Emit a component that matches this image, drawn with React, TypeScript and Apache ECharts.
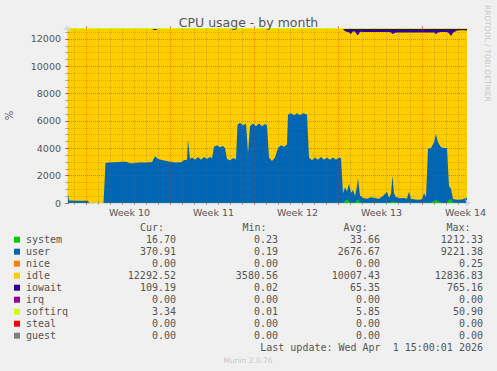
import React, { useEffect, useRef } from 'react';
import * as echarts from 'echarts';

// x = hours since the left edge of the graph (2 hours per pixel, 800 hours wide)
const HOURS = [0,4,20,40,42,44,73,77,84,96,110,118,126,134,144,160,170,176,182,192,204,216,228,234,240,242,246,250,256,262,268,274,280,286,290,294,300,306,312,316,320,326,332,338,341,346,352,358,362,366,372,378,384,390,396,400,404,410,416,422,428,434,440,442,448,454,460,466,472,480,484,490,496,502,508,514,520,526,532,538,544,548,552,556,560,564,568,572,576,580,582,586,592,600,608,616,624,632,640,644,648,651,654,658,666,674,680,684,688,696,704,710,714,718,722,728,734,738,742,748,754,760,764,768,772,780,790,800];

const SYSTEM = [20,20,20,20,20,0,0,20,20,20,
  20,20,20,20,20,20,20,20,20,20,
  20,20,20,20,20,20,20,20,20,20,
  20,20,20,20,20,20,20,20,20,20,
  20,20,20,20,20,20,20,20,20,20,
  20,20,20,20,20,20,20,20,20,20,
  20,20,20,20,20,20,20,20,20,20,
  20,20,20,20,20,20,20,20,20,20,
  20,20,20,150,250,100,50,30,30,200,
  250,50,20,20,20,20,20,20,30,20,
  80,100,100,80,20,20,20,30,20,20,
  20,20,30,20,20,20,150,250,150,20,
  20,20,250,250,50,20,20,17];

const USER = [1100,160,150,140,140,0,0,2900,2940,2960,
  3000,2990,2880,2890,2950,2950,2980,3400,3200,3100,
  3020,2950,2960,3100,3150,4600,3200,3300,3150,3350,
  3150,3350,3200,3350,3250,4100,4200,4050,4150,4000,
  3200,3100,3250,3200,5700,5850,5650,5800,3600,5600,
  5800,5600,5800,5600,5750,5650,3300,3050,3300,4000,
  4200,4100,4250,6450,6550,6400,6550,6400,6550,6450,
  3300,3100,3300,3150,3350,3150,3300,3150,3300,3150,
  3300,3250,700,1000,600,1300,700,900,500,1000,
  1550,500,350,300,400,350,300,500,800,350,
  600,1900,600,350,320,350,300,800,300,230,
  220,250,700,400,3950,4000,4300,4800,4300,4050,
  4000,4000,1000,800,250,220,230,370];

const IDLE = [11600,12540,12550,12560,12560,12720,12720,9800,9760,9740,
  9700,9710,9820,9810,9750,9750,9720,9220,9500,9600,
  9680,9750,9740,9600,9550,8100,9500,9400,9550,9350,
  9550,9350,9500,9350,9450,8600,8500,8650,8550,8700,
  9500,9600,9450,9500,7000,6850,7050,6900,9100,7100,
  6900,7100,6900,7100,6950,7050,9400,9650,9400,8700,
  8500,8600,8450,6250,6150,6300,6150,6300,6150,6250,
  9400,9600,9400,9550,9350,9550,9400,9550,9400,9550,
  9400,9450,12000,11420,11670,11070,11620,11640,11990,11120,
  10470,11970,12140,12190,12080,12130,12180,11980,11670,12130,
  11790,10370,11720,12040,12130,12100,12150,11640,12150,12220,
  12230,12200,11740,12050,8500,8450,8020,7320,8020,8440,
  8490,8490,11170,11170,12160,12380,12380,12233];

const IOWAIT = [0,0,0,0,0,0,0,0,0,0,
  0,0,0,0,0,0,0,80,0,0,
  0,0,0,0,0,0,0,0,0,0,
  0,0,0,0,0,0,0,0,0,0,
  0,0,0,0,0,0,0,0,0,0,
  0,0,0,0,0,0,0,0,0,0,
  0,0,0,0,0,0,0,0,0,0,
  0,0,0,0,0,0,0,0,0,0,
  0,0,0,150,200,250,350,150,200,400,
  450,200,210,210,220,220,220,220,220,220,
  250,350,300,250,250,250,250,250,250,250,
  250,250,250,250,250,250,250,350,250,210,
  210,210,300,500,260,100,100,100];

const SOFTIRQ = [80,80,80,80,80,80,80,80,80,80,
  80,80,80,80,80,80,80,80,80,80,
  80,80,80,80,80,80,80,80,80,80,
  80,80,80,80,80,80,80,80,80,80,
  80,80,80,80,80,80,80,80,80,80,
  80,80,80,80,80,80,80,80,80,80,
  80,80,80,80,80,80,80,80,80,80,
  80,80,80,80,80,80,80,80,80,80,
  80,80,80,80,80,80,80,80,80,80,
  80,80,80,80,80,80,80,80,80,80,
  80,80,80,80,80,80,80,80,80,80,
  80,80,80,80,80,80,80,80,80,80,
  80,80,80,80,80,80,80,80];

// vertical grid (hours)
const DAY_LINES = [15,63,87,111,135,159,183,231,255,279,303,327,351,399,423,447,471,495,519,567,591,615,639,663,687,735,759,783];
const WEEK_LINES = [39,207,375,543,711];
const WEEK_LABEL_POS = [125,293,461,629,797];
const WEEK_LABELS = ['Week 10','Week 11','Week 12','Week 13','Week 14'];

// legend table
const LEG_NAMES = ['system','user','nice','idle','iowait','irq','softirq','steal','guest'];
const LEG_COLORS = ['#00CC00','#0066B3','#FF8000','#FFCC00','#330099','#990099','#CCFF00','#FF0000','#808080'];
const LEG_CUR = ['16.70','370.91','0.00','12292.52','109.19','0.00','3.34','0.00','0.00'];
const LEG_MIN = ['0.23','0.19','0.00','3580.56','0.02','0.00','0.01','0.00','0.00'];
const LEG_AVG = ['33.66','2676.67','0.00','10007.43','65.35','0.00','5.85','0.00','0.00'];
const LEG_MAX = ['1212.33','9221.38','0.25','12836.83','765.16','0.00','50.90','0.00','0.00'];
const LEG_HEAD = ['Cur:','Min:','Avg:','Max:'];

const AXIS_C = '#CFD6F8';
const GRID_C = 'rgba(100,100,100,0.3)';
const MGRID_C = 'rgba(225,40,40,0.38)';
const TICK_C = 'rgba(100,100,100,0.45)';
const MTICK_C = 'rgba(225,40,40,0.6)';
const FONT_C = '#555555';
const SANS = '"DejaVu Sans", sans-serif';
const MONO = '"DejaVu Sans Mono", monospace';

export default function App() {
  const ref = useRef<HTMLDivElement>(null);
  useEffect(() => {
    if (!ref.current) return;
    const chart = echarts.init(ref.current, undefined, { renderer: 'svg' });

    const s1 = SYSTEM.slice();
    const s2 = s1.map((v, i) => v + USER[i]);
    const s3 = s2.map((v, i) => v + IDLE[i]);
    const s4 = s3.map((v, i) => v + IOWAIT[i]);
    const s5 = s4.map((v, i) => v + SOFTIRQ[i]);
    const layers = [
      { name: 'softirq', color: '#CCFF00', vals: s5 },
      { name: 'iowait', color: '#330099', vals: s4 },
      { name: 'idle', color: '#FFCC00', vals: s3 },
      { name: 'user', color: '#0066B3', vals: s2 },
      { name: 'system', color: '#00CC00', vals: s1 },
    ];

    const xBase = { type: 'value', min: 0, max: 800, gridIndex: 0, z: 3 };
    const yBase = { type: 'value', min: 0, max: 12800, gridIndex: 0, z: 3 };

    const graphic: any[] = [];
    graphic.push({
      type: 'text', x: 487, y: 5, rotation: -Math.PI / 2, silent: true,
      style: { text: 'RRDTOOL / TOBI OETIKER', fill: '#c8c8c8', fontSize: 7.5, fontFamily: SANS,
        align: 'left', verticalAlign: 'middle', textAlign: 'left', textVerticalAlign: 'middle' },
    });
    const headX = [152, 254.5, 355.5, 458.5];
    LEG_HEAD.forEach((t, i) => {
      graphic.push({ type: 'text', x: headX[i], y: 227.5, silent: true,
        style: { text: t, fill: FONT_C, fontSize: 10, fontFamily: MONO, align: 'center', verticalAlign: 'middle', textAlign: 'center', textVerticalAlign: 'middle' } });
    });
    const colX = [176, 278, 380, 483];
    const cols = [LEG_CUR, LEG_MIN, LEG_AVG, LEG_MAX];
    LEG_NAMES.forEach((n, r) => {
      const y = 239.7 + 12 * r;
      graphic.push({ type: 'rect', silent: true, shape: { x: 14, y: y - 3, width: 6, height: 6 }, style: { fill: LEG_COLORS[r] } });
      graphic.push({ type: 'text', x: 26, y, silent: true,
        style: { text: n, fill: FONT_C, fontSize: 10, fontFamily: MONO, align: 'left', verticalAlign: 'middle', textAlign: 'left', textVerticalAlign: 'middle' } });
      cols.forEach((c, k) => {
        graphic.push({ type: 'text', x: colX[k], y, silent: true,
          style: { text: c[r], fill: FONT_C, fontSize: 10, fontFamily: MONO, align: 'right', verticalAlign: 'middle', textAlign: 'right', textVerticalAlign: 'middle' } });
      });
    });
    graphic.push({ type: 'text', x: 483, y: 347.7, silent: true,
      style: { text: 'Last update: Wed Apr  1 15:00:01 2026', fill: FONT_C, fontSize: 10, fontFamily: MONO, align: 'right', verticalAlign: 'middle', textAlign: 'right', textVerticalAlign: 'middle' } });
    graphic.push({ type: 'text', x: 248, y: 360, silent: true,
      style: { text: 'Munin 2.0.76', fill: '#c8c8c8', fontSize: 7.5, fontFamily: SANS, align: 'center', verticalAlign: 'middle', textAlign: 'center', textVerticalAlign: 'middle' } });

    const vLines = (vals: number[], color: string) => ({
      silent: true, symbol: ['none', 'none'], animation: false,
      label: { show: false }, emphasis: { disabled: true },
      lineStyle: { color, type: [1, 1], width: 1 },
      data: vals.map((h) => ({ xAxis: h })),
    });

    const series: any[] = layers.map((l) => ({
      type: 'line', name: l.name, xAxisIndex: 0, yAxisIndex: 0,
      data: HOURS.map((h, i) => [h, l.vals[i]]),
      showSymbol: false, symbol: 'none', silent: true, clip: true, z: 2,
      lineStyle: { width: 0, color: l.color },
      itemStyle: { color: l.color },
      areaStyle: { color: l.color, opacity: 1 },
    }));
    series.push({ type: 'line', name: 'grid-minor', xAxisIndex: 0, yAxisIndex: 0, data: [], z: 4, silent: true, markLine: vLines(DAY_LINES, GRID_C) });
    series.push({ type: 'line', name: 'grid-major', xAxisIndex: 0, yAxisIndex: 0, data: [], z: 4, silent: true, markLine: vLines(WEEK_LINES, MGRID_C) });

    const option: any = {
      animation: false,
      backgroundColor: '#F0F0F0',
      title: {
        text: 'CPU usage - by month', left: 'center', top: 11,
        textStyle: { fontSize: 12.5, fontWeight: 'normal', color: FONT_C, fontFamily: SANS },
      },
      grid: { left: 67, top: 28, width: 400, height: 175, containLabel: false, outerBoundsMode: 'none' },
      xAxis: [
        { ...xBase, position: 'bottom',
          axisLine: { show: true, lineStyle: { color: AXIS_C, width: 1 }, symbol: ['none', 'arrow'], symbolSize: [6, 6], symbolOffset: [0, 4] },
          axisTick: { show: true, customValues: DAY_LINES, length: 2, lineStyle: { color: TICK_C } },
          axisLabel: { show: false }, splitLine: { show: false } },
        { ...xBase, position: 'bottom',
          axisLine: { show: false },
          axisTick: { show: true, customValues: WEEK_LINES, length: 2, lineStyle: { color: MTICK_C } },
          axisLabel: { show: false }, splitLine: { show: false } },
        { ...xBase, position: 'bottom',
          axisLine: { show: false }, axisTick: { show: false }, splitLine: { show: false },
          axisLabel: { show: true, customValues: WEEK_LABEL_POS, margin: 4, color: FONT_C, fontSize: 9.5, fontFamily: SANS,
            formatter: (v: number) => { const k = WEEK_LABEL_POS.indexOf(v); return k >= 0 ? WEEK_LABELS[k] : ''; } } },
        { ...xBase, position: 'top',
          axisLine: { show: false }, axisLabel: { show: false }, splitLine: { show: false },
          axisTick: { show: true, customValues: DAY_LINES, length: 2, lineStyle: { color: TICK_C } } },
        { ...xBase, position: 'top',
          axisLine: { show: false }, axisLabel: { show: false }, splitLine: { show: false },
          axisTick: { show: true, customValues: WEEK_LINES, length: 2, lineStyle: { color: MTICK_C } } },
      ],
      yAxis: [
        { ...yBase, position: 'left', interval: 500,
          name: '%', nameLocation: 'middle', nameRotate: 90, nameGap: 53,
          nameTextStyle: { color: FONT_C, fontSize: 10, fontFamily: SANS },
          axisLine: { show: true, lineStyle: { color: AXIS_C, width: 1 }, symbol: ['none', 'arrow'], symbolSize: [6, 6], symbolOffset: [0, 3] },
          axisTick: { show: true, length: 2, lineStyle: { color: TICK_C } },
          axisLabel: { show: false },
          splitLine: { show: true, showMinLine: false, showMaxLine: false, lineStyle: { color: GRID_C, type: [1, 1], width: 1 } } },
        { ...yBase, position: 'left', interval: 2000,
          axisLine: { show: false },
          axisTick: { show: true, length: 2, lineStyle: { color: MTICK_C } },
          axisLabel: { show: true, margin: 6, color: FONT_C, fontSize: 9.5, fontFamily: SANS,
            formatter: (v: number) => (v % 2000 === 0 ? String(v) : '') },
          splitLine: { show: true, showMinLine: false, showMaxLine: false, lineStyle: { color: MGRID_C, type: [1, 1], width: 1 } } },
        { ...yBase, position: 'right', interval: 500,
          axisLine: { show: false }, axisLabel: { show: false }, splitLine: { show: false },
          axisTick: { show: true, length: 2, lineStyle: { color: TICK_C } } },
        { ...yBase, position: 'right', interval: 2000,
          axisLine: { show: false }, axisLabel: { show: false }, splitLine: { show: false },
          axisTick: { show: true, length: 2, lineStyle: { color: MTICK_C } } },
      ],
      series,
      graphic,
    };
    chart.setOption(option);
    return () => chart.dispose();
  }, []);
  return <div ref={ref} style={{ position: 'fixed', left: 0, top: 0, width: 497, height: 371 }} />;
}
